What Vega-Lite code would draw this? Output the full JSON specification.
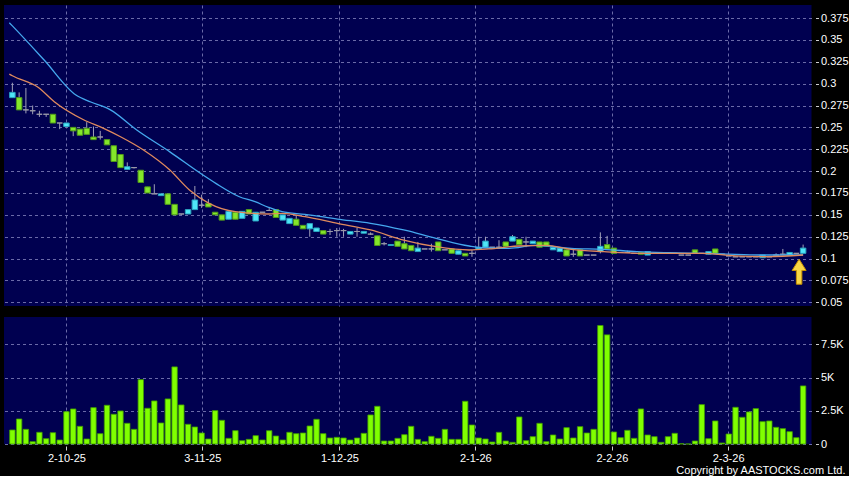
{
"$schema": "https://vega.github.io/schema/vega-lite/v6.json",
"background": "#000000",
"padding": {"left": 4, "top": 5, "right": 0, "bottom": 0},
"config": {
  "view": {"fill": "#000050", "stroke": null},
  "axis": {"labelColor": "#ffffff", "labelFont": "Liberation Sans", "labelFontSize": 11, "tickColor": "#d0d0d0", "domain": false, "gridColor": "#6a6aa8", "gridDash": [3, 3], "gridWidth": 1, "labelOverlap": false}
},
"title": {"text": "Copyright by AASTOCKS.com Ltd.", "orient": "bottom", "anchor": "end", "frame": "group", "color": "#ffffff", "fontSize": 11, "font": "Liberation Sans", "fontWeight": "normal", "dx": 34, "offset": 2},
"datasets": {
  "candles": [
    {"i":0,"o":0.284,"h":0.301,"l":0.284,"c":0.290,"v":1054},
    {"i":1,"o":0.284,"h":0.290,"l":0.270,"c":0.270,"v":1882},
    {"i":2,"o":0.270,"h":0.295,"l":0.266,"c":0.270,"v":1104},
    {"i":3,"o":0.269,"h":0.275,"l":0.265,"c":0.269,"v":175},
    {"i":4,"o":0.265,"h":0.269,"l":0.262,"c":0.265,"v":880},
    {"i":5,"o":0.265,"h":0.265,"l":0.262,"c":0.265,"v":400},
    {"i":6,"o":0.265,"h":0.265,"l":0.255,"c":0.255,"v":850},
    {"i":7,"o":0.255,"h":0.255,"l":0.248,"c":0.255,"v":300},
    {"i":8,"o":0.251,"h":0.255,"l":0.250,"c":0.255,"v":2430},
    {"i":9,"o":0.250,"h":0.250,"l":0.240,"c":0.246,"v":2635},
    {"i":10,"o":0.248,"h":0.248,"l":0.241,"c":0.241,"v":1330},
    {"i":11,"o":0.249,"h":0.256,"l":0.242,"c":0.242,"v":376},
    {"i":12,"o":0.239,"h":0.251,"l":0.236,"c":0.236,"v":2735},
    {"i":13,"o":0.239,"h":0.246,"l":0.236,"c":0.239,"v":776},
    {"i":14,"o":0.236,"h":0.236,"l":0.230,"c":0.230,"v":2913},
    {"i":15,"o":0.229,"h":0.229,"l":0.211,"c":0.211,"v":2236},
    {"i":16,"o":0.219,"h":0.219,"l":0.204,"c":0.204,"v":2485},
    {"i":17,"o":0.202,"h":0.210,"l":0.202,"c":0.205,"v":1557},
    {"i":18,"o":0.204,"h":0.204,"l":0.203,"c":0.204,"v":1104},
    {"i":19,"o":0.201,"h":0.201,"l":0.187,"c":0.187,"v":4842},
    {"i":20,"o":0.182,"h":0.182,"l":0.175,"c":0.175,"v":2686},
    {"i":21,"o":0.174,"h":0.185,"l":0.174,"c":0.174,"v":3238},
    {"i":22,"o":0.172,"h":0.174,"l":0.172,"c":0.174,"v":1581},
    {"i":23,"o":0.174,"h":0.174,"l":0.162,"c":0.162,"v":3389},
    {"i":24,"o":0.162,"h":0.162,"l":0.150,"c":0.150,"v":5798},
    {"i":25,"o":0.151,"h":0.151,"l":0.150,"c":0.151,"v":2937},
    {"i":26,"o":0.151,"h":0.156,"l":0.151,"c":0.156,"v":1481},
    {"i":27,"o":0.156,"h":0.183,"l":0.156,"c":0.167,"v":1280},
    {"i":28,"o":0.161,"h":0.173,"l":0.158,"c":0.161,"v":828},
    {"i":29,"o":0.163,"h":0.168,"l":0.159,"c":0.159,"v":376},
    {"i":30,"o":0.153,"h":0.153,"l":0.150,"c":0.150,"v":2510},
    {"i":31,"o":0.150,"h":0.150,"l":0.144,"c":0.144,"v":1782},
    {"i":32,"o":0.145,"h":0.154,"l":0.145,"c":0.154,"v":426},
    {"i":33,"o":0.153,"h":0.153,"l":0.145,"c":0.145,"v":1003},
    {"i":34,"o":0.146,"h":0.154,"l":0.146,"c":0.154,"v":250},
    {"i":35,"o":0.156,"h":0.156,"l":0.151,"c":0.151,"v":351},
    {"i":36,"o":0.143,"h":0.153,"l":0.143,"c":0.153,"v":627},
    {"i":37,"o":0.153,"h":0.153,"l":0.153,"c":0.153,"v":300},
    {"i":38,"o":0.155,"h":0.158,"l":0.155,"c":0.155,"v":1000},
    {"i":39,"o":0.156,"h":0.156,"l":0.147,"c":0.147,"v":602},
    {"i":40,"o":0.144,"h":0.150,"l":0.144,"c":0.150,"v":300},
    {"i":41,"o":0.140,"h":0.146,"l":0.140,"c":0.146,"v":880},
    {"i":42,"o":0.145,"h":0.150,"l":0.138,"c":0.138,"v":776},
    {"i":43,"o":0.138,"h":0.138,"l":0.134,"c":0.134,"v":828},
    {"i":44,"o":0.134,"h":0.140,"l":0.125,"c":0.140,"v":1355},
    {"i":45,"o":0.131,"h":0.135,"l":0.131,"c":0.135,"v":1857},
    {"i":46,"o":0.132,"h":0.132,"l":0.128,"c":0.128,"v":778},
    {"i":47,"o":0.131,"h":0.134,"l":0.127,"c":0.131,"v":452},
    {"i":48,"o":0.132,"h":0.135,"l":0.125,"c":0.132,"v":502},
    {"i":49,"o":0.132,"h":0.134,"l":0.125,"c":0.132,"v":452},
    {"i":50,"o":0.128,"h":0.131,"l":0.128,"c":0.131,"v":301},
    {"i":51,"o":0.131,"h":0.135,"l":0.125,"c":0.131,"v":452},
    {"i":52,"o":0.129,"h":0.131,"l":0.129,"c":0.131,"v":803},
    {"i":53,"o":0.128,"h":0.130,"l":0.127,"c":0.128,"v":2184},
    {"i":54,"o":0.126,"h":0.126,"l":0.115,"c":0.115,"v":2836},
    {"i":55,"o":0.117,"h":0.119,"l":0.115,"c":0.117,"v":226},
    {"i":56,"o":0.115,"h":0.116,"l":0.115,"c":0.116,"v":226},
    {"i":57,"o":0.120,"h":0.120,"l":0.114,"c":0.114,"v":427},
    {"i":58,"o":0.117,"h":0.125,"l":0.111,"c":0.111,"v":703},
    {"i":59,"o":0.115,"h":0.115,"l":0.109,"c":0.109,"v":1330},
    {"i":60,"o":0.108,"h":0.119,"l":0.108,"c":0.112,"v":351},
    {"i":61,"o":0.111,"h":0.111,"l":0.111,"c":0.111,"v":176},
    {"i":62,"o":0.111,"h":0.117,"l":0.108,"c":0.111,"v":577},
    {"i":63,"o":0.119,"h":0.119,"l":0.109,"c":0.109,"v":427},
    {"i":64,"o":0.110,"h":0.110,"l":0.110,"c":0.110,"v":1104},
    {"i":65,"o":0.111,"h":0.111,"l":0.106,"c":0.106,"v":351},
    {"i":66,"o":0.105,"h":0.109,"l":0.105,"c":0.109,"v":351},
    {"i":67,"o":0.106,"h":0.106,"l":0.103,"c":0.103,"v":3213},
    {"i":68,"o":0.106,"h":0.110,"l":0.102,"c":0.106,"v":1431},
    {"i":69,"o":0.111,"h":0.125,"l":0.111,"c":0.113,"v":452},
    {"i":70,"o":0.113,"h":0.125,"l":0.113,"c":0.120,"v":377},
    {"i":71,"o":0.113,"h":0.113,"l":0.113,"c":0.113,"v":150},
    {"i":72,"o":0.113,"h":0.121,"l":0.111,"c":0.113,"v":878},
    {"i":73,"o":0.119,"h":0.119,"l":0.114,"c":0.114,"v":226},
    {"i":74,"o":0.120,"h":0.127,"l":0.120,"c":0.125,"v":125},
    {"i":75,"o":0.122,"h":0.122,"l":0.116,"c":0.116,"v":2033},
    {"i":76,"o":0.119,"h":0.125,"l":0.113,"c":0.119,"v":251},
    {"i":77,"o":0.117,"h":0.120,"l":0.117,"c":0.120,"v":552},
    {"i":78,"o":0.119,"h":0.119,"l":0.113,"c":0.113,"v":1556},
    {"i":79,"o":0.119,"h":0.119,"l":0.114,"c":0.114,"v":176},
    {"i":80,"o":0.110,"h":0.113,"l":0.110,"c":0.113,"v":678},
    {"i":81,"o":0.108,"h":0.112,"l":0.108,"c":0.112,"v":377},
    {"i":82,"o":0.110,"h":0.110,"l":0.103,"c":0.103,"v":1230},
    {"i":83,"o":0.105,"h":0.110,"l":0.102,"c":0.105,"v":452},
    {"i":84,"o":0.110,"h":0.110,"l":0.103,"c":0.103,"v":1305},
    {"i":85,"o":0.104,"h":0.104,"l":0.104,"c":0.104,"v":828},
    {"i":86,"o":0.104,"h":0.104,"l":0.104,"c":0.104,"v":1104},
    {"i":87,"o":0.108,"h":0.130,"l":0.106,"c":0.114,"v":8911},
    {"i":88,"o":0.116,"h":0.126,"l":0.111,"c":0.111,"v":8208},
    {"i":89,"o":0.112,"h":0.112,"l":0.106,"c":0.106,"v":904},
    {"i":90,"o":0.107,"h":0.107,"l":0.107,"c":0.107,"v":477},
    {"i":91,"o":0.107,"h":0.109,"l":0.107,"c":0.107,"v":1029},
    {"i":92,"o":0.106,"h":0.106,"l":0.106,"c":0.106,"v":427},
    {"i":93,"o":0.107,"h":0.107,"l":0.105,"c":0.105,"v":2636},
    {"i":94,"o":0.104,"h":0.108,"l":0.104,"c":0.108,"v":678},
    {"i":95,"o":0.106,"h":0.106,"l":0.106,"c":0.106,"v":552},
    {"i":96,"o":0.106,"h":0.106,"l":0.106,"c":0.106,"v":125},
    {"i":97,"o":0.106,"h":0.106,"l":0.106,"c":0.106,"v":552},
    {"i":98,"o":0.106,"h":0.106,"l":0.106,"c":0.106,"v":803},
    {"i":99,"o":0.104,"h":0.104,"l":0.104,"c":0.104,"v":20},
    {"i":100,"o":0.104,"h":0.104,"l":0.104,"c":0.104,"v":0},
    {"i":101,"o":0.110,"h":0.110,"l":0.106,"c":0.106,"v":226},
    {"i":102,"o":0.106,"h":0.106,"l":0.106,"c":0.106,"v":2962},
    {"i":103,"o":0.105,"h":0.108,"l":0.105,"c":0.108,"v":402},
    {"i":104,"o":0.111,"h":0.111,"l":0.106,"c":0.106,"v":1732},
    {"i":105,"o":0.105,"h":0.105,"l":0.105,"c":0.105,"v":75},
    {"i":106,"o":0.103,"h":0.103,"l":0.103,"c":0.103,"v":753},
    {"i":107,"o":0.102,"h":0.102,"l":0.102,"c":0.102,"v":2761},
    {"i":108,"o":0.102,"h":0.102,"l":0.102,"c":0.102,"v":2008},
    {"i":109,"o":0.102,"h":0.102,"l":0.102,"c":0.102,"v":2410},
    {"i":110,"o":0.102,"h":0.102,"l":0.102,"c":0.102,"v":2661},
    {"i":111,"o":0.101,"h":0.104,"l":0.101,"c":0.104,"v":1682},
    {"i":112,"o":0.102,"h":0.102,"l":0.102,"c":0.102,"v":1732},
    {"i":113,"o":0.104,"h":0.106,"l":0.104,"c":0.104,"v":1255},
    {"i":114,"o":0.105,"h":0.111,"l":0.105,"c":0.105,"v":1155},
    {"i":115,"o":0.104,"h":0.107,"l":0.104,"c":0.107,"v":929},
    {"i":116,"o":0.106,"h":0.106,"l":0.106,"c":0.106,"v":477},
    {"i":117,"o":0.106,"h":0.116,"l":0.106,"c":0.112,"v":4367}
  ],
  "maBlue": [
    {"i":-0.45,"v":0.3696},{"i":0,"v":0.366},{"i":4.7,"v":0.327},{"i":9.4,"v":0.287},{"i":11.6,"v":0.279},{"i":14.5,"v":0.270},{"i":18.4,"v":0.247},{"i":23.3,"v":0.222},{"i":28.2,"v":0.1955},{"i":30.1,"v":0.186},{"i":33.5,"v":0.171},{"i":35.9,"v":0.165},{"i":37.9,"v":0.1586},{"i":39.9,"v":0.1536},{"i":43.3,"v":0.1506},{"i":48.1,"v":0.1452},{"i":53,"v":0.1403},{"i":57.9,"v":0.1327},{"i":62.7,"v":0.1232},{"i":67.6,"v":0.1144},{"i":69.6,"v":0.1124},{"i":73.5,"v":0.1117},{"i":77.4,"v":0.115},{"i":82.7,"v":0.1117},{"i":87.5,"v":0.1106},{"i":92.4,"v":0.1079},{"i":97.3,"v":0.1067},{"i":102.1,"v":0.106},{"i":107,"v":0.1049},{"i":111.8,"v":0.1041},{"i":117,"v":0.1041}
  ],
  "maOrange": [
    {"i":-0.45,"v":0.311},{"i":0,"v":0.309},{"i":3.8,"v":0.2958},{"i":6.2,"v":0.2793},{"i":10.6,"v":0.2584},{"i":13.5,"v":0.2489},{"i":16,"v":0.2393},{"i":19.4,"v":0.2241},{"i":23.3,"v":0.2012},{"i":26.2,"v":0.1784},{"i":29.1,"v":0.1632},{"i":33,"v":0.1536},{"i":37.9,"v":0.151},{"i":39.9,"v":0.1517},{"i":43.3,"v":0.1479},{"i":48.1,"v":0.1403},{"i":53,"v":0.1327},{"i":57.9,"v":0.1212},{"i":62.7,"v":0.1136},{"i":67.6,"v":0.1098},{"i":70.5,"v":0.111},{"i":74.9,"v":0.1144},{"i":78.9,"v":0.115},{"i":82.7,"v":0.1106},{"i":87.5,"v":0.1079},{"i":92.4,"v":0.106},{"i":97.3,"v":0.106},{"i":102.1,"v":0.106},{"i":107,"v":0.103},{"i":111.8,"v":0.1022},{"i":117,"v":0.1041}
  ],
  "arrow": [{"i":117,"p":0.085}]
},
"vconcat": [
  {
    "width": 807.5,
    "height": 301,
    "layer": [
      {
        "data": {"name": "candles"},
        "mark": {"type": "rule", "color": "#a0a0b8", "strokeWidth": 1},
        "encoding": {
          "x": {"field": "i", "type": "quantitative", "scale": {"domain": [-0.5, 117.5], "nice": false, "zero": false},
                "axis": {"orient": "bottom", "labels": false, "ticks": false, "domain": false, "grid": true, "values": [8, 28.1, 48.4, 68.5, 88.7, 105.9], "title": null}},
          "y": {"field": "l", "type": "quantitative", "scale": {"domain": [0.0458, 0.3899], "nice": false, "zero": false},
                "axis": {"orient": "right", "values": [0.05, 0.075, 0.1, 0.125, 0.15, 0.175, 0.2, 0.225, 0.25, 0.275, 0.3, 0.325, 0.35, 0.375], "labelExpr": "format(datum.value, '.3~f')", "offset": 4, "tickSize": 3, "labelPadding": 2, "grid": true, "labelOverlap": false, "title": null}},
          "y2": {"field": "h"}
        }
      },
      {
        "data": {"name": "candles"},
        "mark": {"type": "bar", "width": 5.5, "strokeWidth": 1},
        "encoding": {
          "x": {"field": "i", "type": "quantitative",
                "axis": {"orient": "bottom", "labels": false, "ticks": false, "domain": false, "grid": true, "values": [8, 28.1, 48.4, 68.5, 88.7, 105.9], "title": null}},
          "y": {"field": "o", "type": "quantitative",
                "axis": {"orient": "right", "values": [0.05, 0.075, 0.1, 0.125, 0.15, 0.175, 0.2, 0.225, 0.25, 0.275, 0.3, 0.325, 0.35, 0.375], "labelExpr": "format(datum.value, '.3~f')", "offset": 4, "tickSize": 3, "labelPadding": 2, "grid": true, "labelOverlap": false, "title": null}},
          "y2": {"field": "c"},
          "fill": {"condition": [{"test": "datum.c > datum.o", "value": "#4fe6f7"}, {"test": "datum.c < datum.o", "value": "#84e62a"}], "value": "#9a9aa8"},
          "stroke": {"condition": [{"test": "datum.c > datum.o", "value": "#2aa4c0"}, {"test": "datum.c < datum.o", "value": "#4f9a1a"}], "value": "#9a9aa8"}
        }
      },
      {
        "data": {"name": "maBlue"},
        "mark": {"type": "line", "color": "#45a8ee", "strokeWidth": 1.3, "interpolate": "monotone"},
        "encoding": {
          "x": {"field": "i", "type": "quantitative",
                "axis": {"orient": "bottom", "labels": false, "ticks": false, "domain": false, "grid": true, "values": [8, 28.1, 48.4, 68.5, 88.7, 105.9], "title": null}},
          "y": {"field": "v", "type": "quantitative",
                "axis": {"orient": "right", "values": [0.05, 0.075, 0.1, 0.125, 0.15, 0.175, 0.2, 0.225, 0.25, 0.275, 0.3, 0.325, 0.35, 0.375], "labelExpr": "format(datum.value, '.3~f')", "offset": 4, "tickSize": 3, "labelPadding": 2, "grid": true, "labelOverlap": false, "title": null}}
        }
      },
      {
        "data": {"name": "maOrange"},
        "mark": {"type": "line", "color": "#e08a5e", "strokeWidth": 1.3, "interpolate": "monotone"},
        "encoding": {
          "x": {"field": "i", "type": "quantitative",
                "axis": {"orient": "bottom", "labels": false, "ticks": false, "domain": false, "grid": true, "values": [8, 28.1, 48.4, 68.5, 88.7, 105.9], "title": null}},
          "y": {"field": "v", "type": "quantitative",
                "axis": {"orient": "right", "values": [0.05, 0.075, 0.1, 0.125, 0.15, 0.175, 0.2, 0.225, 0.25, 0.275, 0.3, 0.325, 0.35, 0.375], "labelExpr": "format(datum.value, '.3~f')", "offset": 4, "tickSize": 3, "labelPadding": 2, "grid": true, "labelOverlap": false, "title": null}}
        }
      },
      {
        "data": {"name": "arrow"},
        "mark": {"type": "point", "shape": "M0,-1L0.56,-0.1L0.22,-0.1L0.22,1L-0.22,1L-0.22,-0.1L-0.56,-0.1Z", "size": 625, "filled": true, "fill": "#f8d645", "stroke": "#c89000", "strokeWidth": 1, "opacity": 1, "xOffset": -4},
        "encoding": {
          "x": {"field": "i", "type": "quantitative",
                "axis": {"orient": "bottom", "labels": false, "ticks": false, "domain": false, "grid": true, "values": [8, 28.1, 48.4, 68.5, 88.7, 105.9], "title": null}},
          "y": {"field": "p", "type": "quantitative",
                "axis": {"orient": "right", "values": [0.05, 0.075, 0.1, 0.125, 0.15, 0.175, 0.2, 0.225, 0.25, 0.275, 0.3, 0.325, 0.35, 0.375], "labelExpr": "format(datum.value, '.3~f')", "offset": 4, "tickSize": 3, "labelPadding": 2, "grid": true, "labelOverlap": false, "title": null}}
        }
      }
    ]
  },
  {
    "width": 807.5,
    "height": 127,
    "data": {"name": "candles"},
    "mark": {"type": "bar", "width": 5.4, "fill": "#80ff00", "stroke": "#3f9c00", "strokeWidth": 0.8},
    "encoding": {
      "x": {"field": "i", "type": "quantitative", "scale": {"domain": [-0.5, 117.5], "nice": false, "zero": false},
            "axis": {"orient": "bottom", "values": [8, 28.1, 48.4, 68.5, 88.7, 105.9], "labelExpr": "datum.value < 10 ? '2-10-25' : datum.value < 30 ? '3-11-25' : datum.value < 50 ? '1-12-25' : datum.value < 70 ? '2-1-26' : datum.value < 90 ? '2-2-26' : '2-3-26'", "grid": true, "offset": 2, "tickSize": 4, "labelPadding": 2, "labelOverlap": false, "title": null}},
      "y": {"field": "v", "type": "quantitative", "scale": {"domain": [0, 9550], "nice": false},
            "axis": {"orient": "right", "values": [0, 2500, 5000, 7500], "labelExpr": "datum.value == 0 ? '0' : (datum.value / 1000) + 'K'", "offset": 4, "tickSize": 3, "labelPadding": 2, "grid": true, "labelOverlap": false, "title": null}}
    }
  }
],
"spacing": 11,
"bounds": "flush"
}
